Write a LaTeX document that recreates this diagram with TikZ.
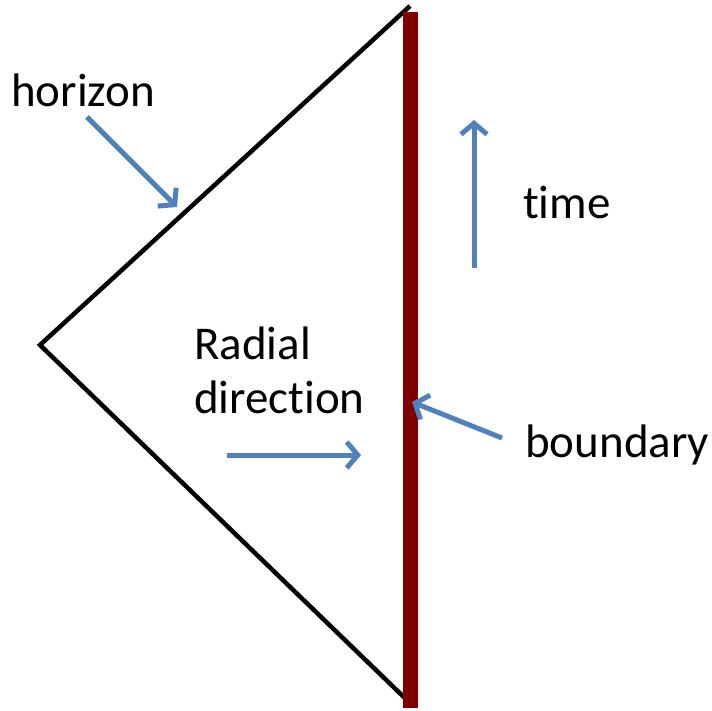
\documentclass[tikz,border=0pt]{standalone}
\usepackage{fontspec}
\setmainfont[Ligatures=NoCommon]{Carlito}
\usetikzlibrary{arrows.meta}
\definecolor{bluearrow}{HTML}{4F81BD}
\definecolor{darkred}{HTML}{800000}
\tikzset{
	blue arrow/.style={bluearrow, line width=5pt, -{Straight Barb[length=11pt, width=26pt]}},
	label text/.style={anchor=base west, inner sep=0pt, font=\fontsize{47}{54}\selectfont, align=left}
}
\begin{document}
\begin{tikzpicture}[x=1pt, y=-1pt]
\useasboundingbox (0,0) rectangle (712,711);
% edges of the diagram
\coordinate (top) at (410,6);
\coordinate (tip) at (40,345);
\coordinate (bottom) at (410,703);
\draw[black, line width=4.5pt, line join=miter] (top) -- (tip) -- (bottom);
\fill[darkred] (403,12) rectangle (418,708);
% labels
\node[label text] (horizon) at (11,107) {horizon};
\node[label text] (time) at (523,219) {time};
\node[label text] (radial) at (194,413) {Radial\\direction};
\node[label text] (boundary) at (525,457) {boundary};
% arrows
\coordinate (hz tail) at (87,117);
\coordinate (hz head) at (177,207);
\coordinate (bd tail) at (502,438);
\coordinate (bd head) at (412,402);
\coordinate (rd tail) at (227,455);
\coordinate (rd head) at (361,455);
\coordinate (tm tail) at (474,268);
\coordinate (tm head) at (474,120);
\foreach \a in {hz,bd,rd,tm}
{
	\draw[blue arrow] (\a\space tail) -- (\a\space head);
}
\end{tikzpicture}
\end{document}
